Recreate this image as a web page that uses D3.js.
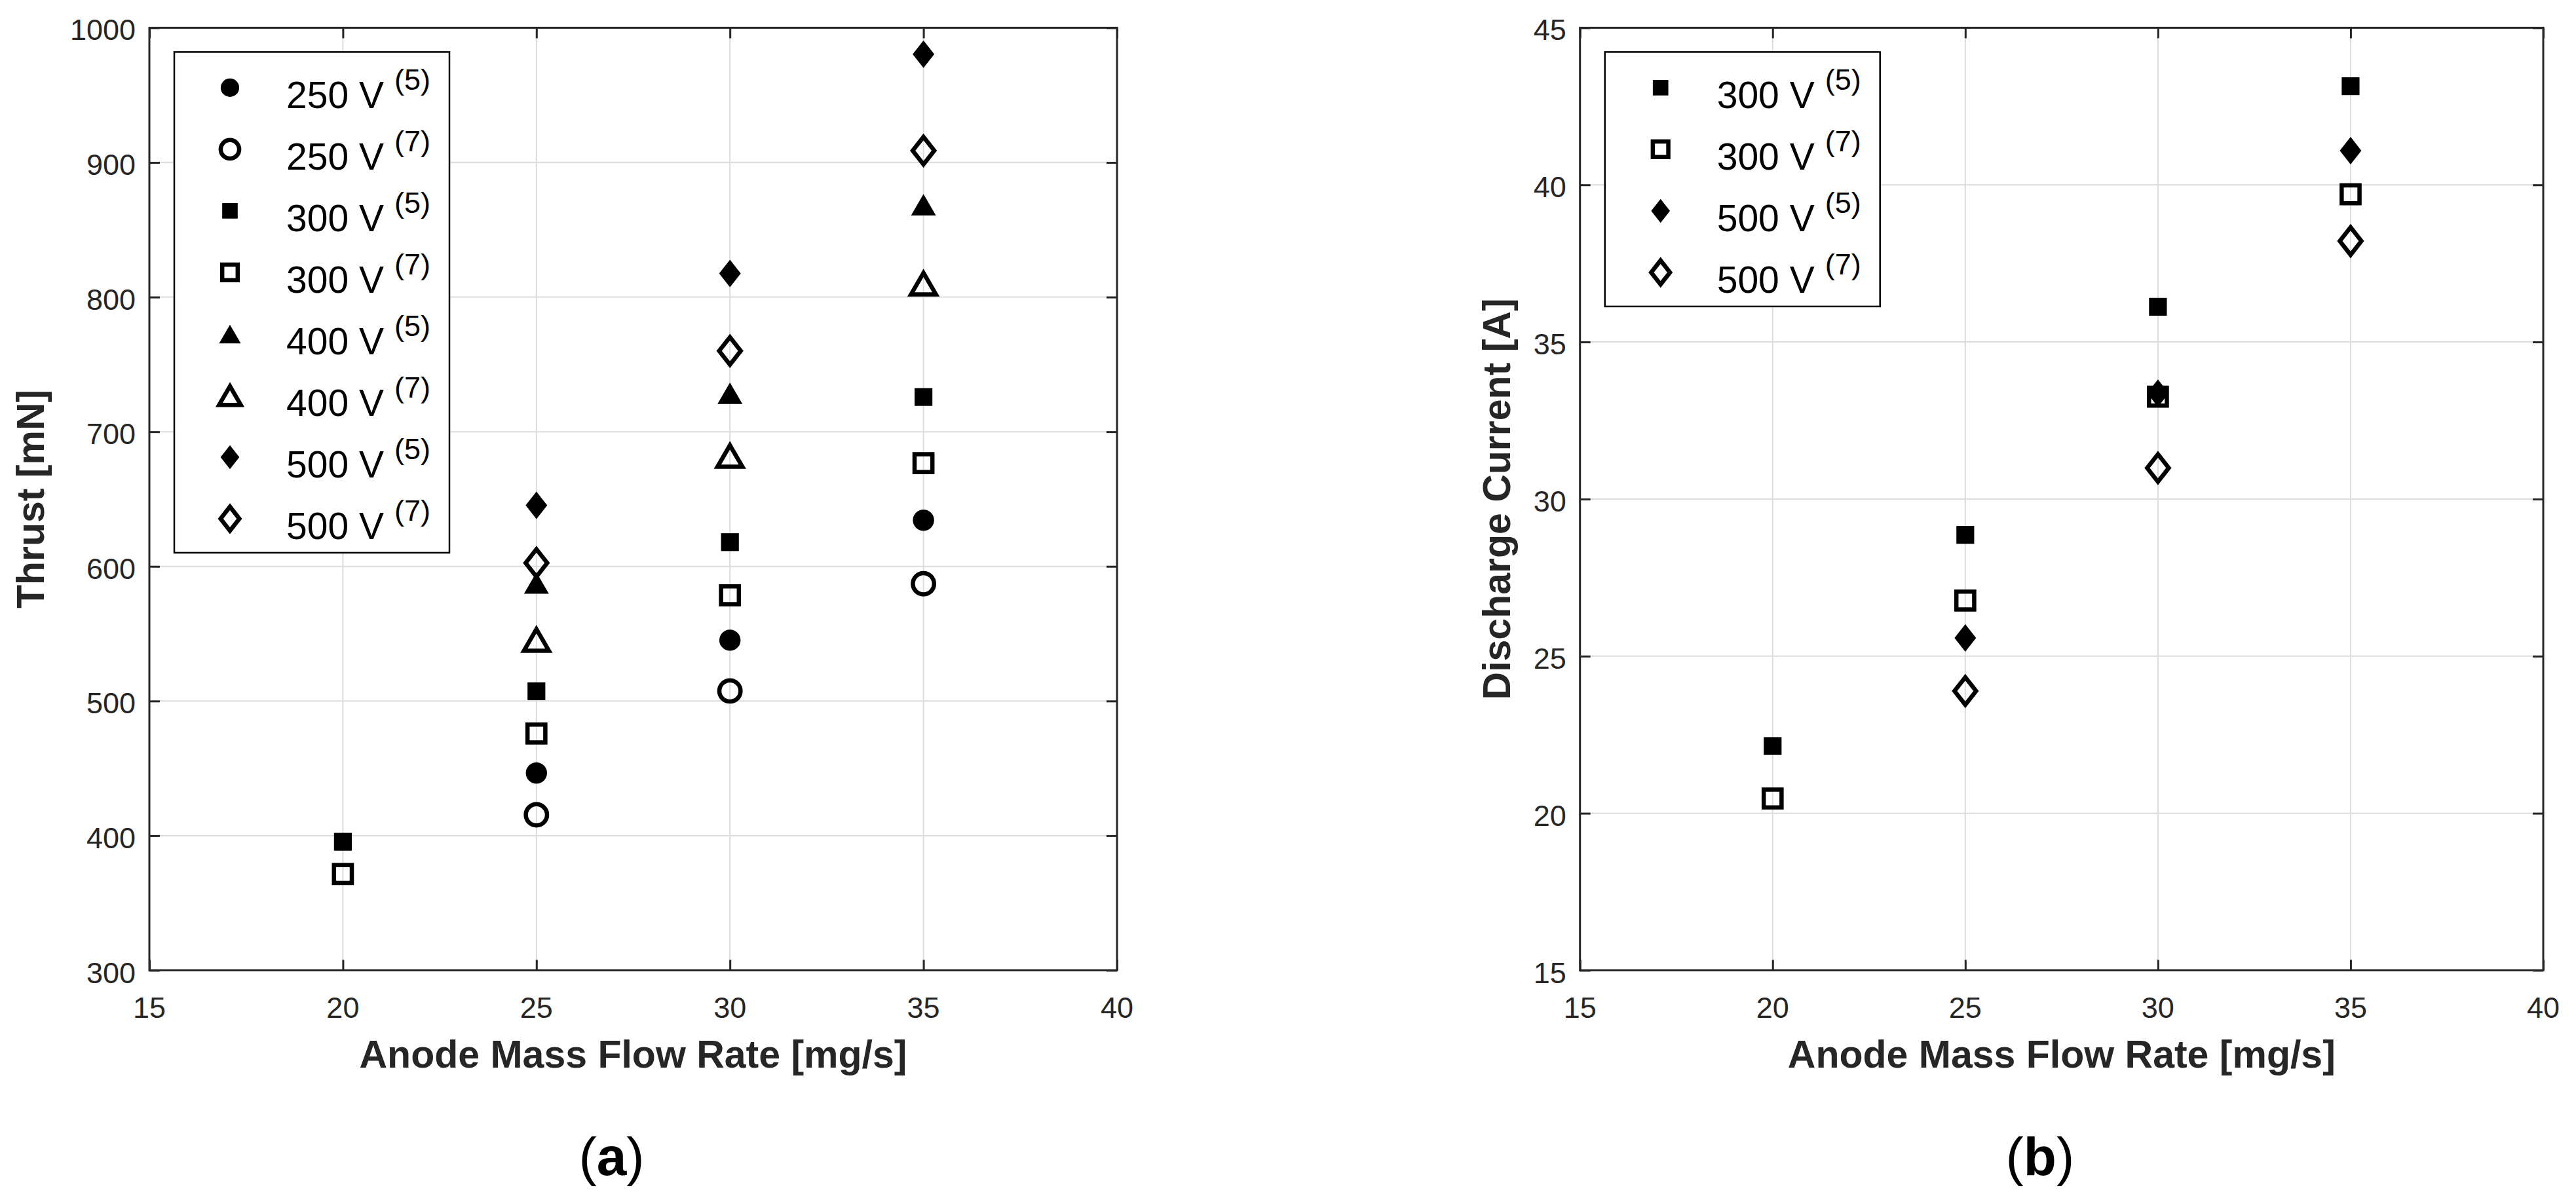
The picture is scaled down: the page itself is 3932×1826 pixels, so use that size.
<!DOCTYPE html>
<html>
<head>
<meta charset="utf-8">
<script src="https://cdnjs.cloudflare.com/ajax/libs/d3/7.8.5/d3.min.js"></script>
<style>
  body { margin: 0; background: #fff; }
  svg { display: block; }
  text { font-family: "Liberation Sans", Arial, Helvetica, sans-serif; }
</style>
</head>
<body>
<div id="chart-area"></div>
<script>
// x values: anode mass flow rate [mg/s]
var flowRates = [20, 25, 30, 35];
var xTicks = [15, 20, 25, 30, 35, 40];

// panel (a) thrust [mN]  (null = not measured)
var thrust250v5 = [null, 446.5, 545.2, 634.3];
var thrust250v7 = [null, 415.5, 507.5, 587.1];
var thrust300v5 = [395.5, 507.3, 618.0, 725.8];
var thrust300v7 = [371.6, 475.9, 578.5, 676.7];
var thrust400v5 = [null, 587.7, 728.6, 868.6];
var thrust400v7 = [null, 545.4, 682.0, 810.0];
var thrust500v5 = [null, 645.3, 817.5, 980.4];
var thrust500v7 = [null, 602.5, 760.0, 908.8];
var thrustTicks = [300, 400, 500, 600, 700, 800, 900, 1000];

// panel (b) discharge current [A]
var current300v5 = [22.14, 28.86, 36.12, 43.14];
var current300v7 = [20.47, 26.77, 33.26, 39.70];
var current500v5 = [null, 25.58, 33.37, 41.09];
var current500v7 = [null, 23.89, 30.99, 38.21];
var currentTicks = [15, 20, 25, 30, 35, 40, 45];

// legend text
var voltageLabels = ["250 V", "250 V", "300 V", "300 V", "400 V", "400 V", "500 V", "500 V"];
var refLabels = ["(5)", "(7)", "(5)", "(7)", "(5)", "(7)", "(5)", "(7)"];

var W = 3932, H = 1826;
var ink = "#262626";

var svg = d3.select("#chart-area").append("svg")
  .attr("width", W)
  .attr("height", H)
  .attr("viewBox", "0 0 " + W + " " + H);

// marker outlines, centred on the data point
function markerPath(shape, k) {
  k = k || 1;
  if (shape == "circle") {
    var r = 16.2 * k;
    return "M" + (-r) + ",0A" + r + "," + r + " 0 1,0 " + r + ",0A" + r + "," + r + " 0 1,0 " + (-r) + ",0Z";
  }
  if (shape == "square") {
    var s = 13.6 * k;
    return "M" + (-s) + "," + (-s) + "H" + s + "V" + s + "H" + (-s) + "Z";
  }
  if (shape == "diamond") {
    var w = 16.5 * k, h = 21 * k;
    return "M0," + (-h) + "L" + w + ",0L0," + h + "L" + (-w) + ",0Z";
  }
  // triangle (up)
  var tw = 19 * k, th = 16.4 * k;
  return "M0," + (-th) + "L" + tw + "," + th + "L" + (-tw) + "," + th + "Z";
}

function styleMarker(sel, filled) {
  sel.attr("fill", filled ? "#000" : "none")
    .attr("stroke", filled ? "none" : "#000")
    .attr("stroke-width", filled ? 0 : 6.5)
    .attr("stroke-linejoin", "miter")
    .attr("stroke-miterlimit", 10);
}

// one MATLAB-like scatter panel
ScatterPanel = function (_opts) {
  this.opts = _opts;
  this.initVis();
};

ScatterPanel.prototype.initVis = function () {
  var vis = this;
  var o = vis.opts;

  vis.g = svg.append("g");

  vis.x = d3.scaleLinear().domain([15, 40]).range([o.left, o.right]);
  vis.y = d3.scaleLinear().domain(o.yDomain).range([o.bottom, o.top]);

  /* grid */
  vis.g.append("g").selectAll("line.vgrid")
    .data(xTicks.slice(1, -1)).enter()
    .append("line")
    .attr("x1", d => vis.x(d)).attr("x2", d => vis.x(d))
    .attr("y1", o.top).attr("y2", o.bottom)
    .attr("stroke", "#dcdcdc").attr("stroke-width", 2);

  vis.g.append("g").selectAll("line.hgrid")
    .data(o.yTicks.slice(1, -1)).enter()
    .append("line")
    .attr("y1", d => vis.y(d)).attr("y2", d => vis.y(d))
    .attr("x1", o.left).attr("x2", o.right)
    .attr("stroke", "#dcdcdc").attr("stroke-width", 2);

  /* axes: inward ticks on all four sides */
  var tl = 16;
  vis.g.append("g")
    .attr("transform", "translate(0," + o.bottom + ")")
    .call(d3.axisBottom(vis.x).tickValues(xTicks).tickSize(-tl).tickFormat(""))
    .call(g => g.select(".domain").remove());
  vis.g.append("g")
    .attr("transform", "translate(0," + o.top + ")")
    .call(d3.axisTop(vis.x).tickValues(xTicks).tickSize(-tl).tickFormat(""))
    .call(g => g.select(".domain").remove());
  vis.g.append("g")
    .attr("transform", "translate(" + o.left + ",0)")
    .call(d3.axisLeft(vis.y).tickValues(o.yTicks).tickSize(-tl).tickFormat(""))
    .call(g => g.select(".domain").remove());
  vis.g.append("g")
    .attr("transform", "translate(" + o.right + ",0)")
    .call(d3.axisRight(vis.y).tickValues(o.yTicks).tickSize(-tl).tickFormat(""))
    .call(g => g.select(".domain").remove());
  vis.g.selectAll(".tick line").attr("stroke", ink).attr("stroke-width", 3);

  // tick labels
  vis.g.append("g").selectAll("text")
    .data(xTicks).enter()
    .append("text")
    .attr("x", d => vis.x(d))
    .attr("y", o.bottom + 72)
    .attr("text-anchor", "middle")
    .attr("font-size", 45)
    .attr("fill", ink)
    .text(d => d);

  vis.g.append("g").selectAll("text")
    .data(o.yTicks).enter()
    .append("text")
    .attr("x", o.left - 21)
    .attr("y", d => vis.y(d) + 19)
    .attr("text-anchor", "end")
    .attr("font-size", 45)
    .attr("fill", ink)
    .text(d => d);

  /* series */
  o.series.forEach(function (s) {
    var pts = flowRates.map((f, i) => ({ x: f, v: s.values[i] })).filter(d => d.v != null);
    vis.g.append("g").selectAll("path")
      .data(pts).enter()
      .append("path")
      .attr("d", markerPath(s.shape))
      .attr("transform", d => "translate(" + vis.x(d.x) + "," + vis.y(d.v) + ")")
      .call(styleMarker, s.filled);
  });

  /* box */
  vis.g.append("rect")
    .attr("x", o.left).attr("y", o.top)
    .attr("width", o.right - o.left).attr("height", o.bottom - o.top)
    .attr("fill", "none").attr("stroke", ink).attr("stroke-width", 3);

  /* legend */
  var lx = o.left + 38, ly = o.top + 37;
  var step = 94;
  var n = o.series.length;
  var legend = vis.g.append("g");
  legend.append("rect")
    .attr("x", lx).attr("y", ly)
    .attr("width", 420).attr("height", 85.5 + (n - 1) * step + 21)
    .attr("fill", "#fff").attr("stroke", "#000").attr("stroke-width", 2.5);

  var items = legend.selectAll("g.item")
    .data(o.series).enter()
    .append("g")
    .attr("class", "item")
    .attr("transform", (d, i) => "translate(" + lx + "," + (ly + 85.5 + i * step) + ")");

  items.append("path")
    .attr("d", d => markerPath(d.shape, 0.87))
    .attr("transform", "translate(85,-31)")
    .each(function (d) { d3.select(this).call(styleMarker, d.filled); });

  var txt = items.append("text")
    .attr("x", 171)
    .attr("y", 0)
    .attr("font-size", 57)
    .attr("fill", "#000")
    .text(d => d.voltage);
  txt.append("tspan")
    .attr("dx", 16)
    .attr("dy", -28)
    .attr("font-size", 45)
    .text(d => d.ref);

  /* axis titles */
  var cx = (o.left + o.right) / 2;
  vis.g.append("text")
    .attr("x", cx)
    .attr("y", 1630)
    .attr("text-anchor", "middle")
    .attr("font-size", 59)
    .attr("font-weight", "bold")
    .attr("fill", ink)
    .text("Anode Mass Flow Rate [mg/s]");

  vis.g.append("text")
    .attr("transform", "translate(" + o.yLabelX + "," + ((o.top + o.bottom) / 2) + ") rotate(-90)")
    .attr("text-anchor", "middle")
    .attr("font-size", 59)
    .attr("font-weight", "bold")
    .attr("fill", ink)
    .text(o.yLabel);

  /* panel letter */
  var lab = vis.g.append("text")
    .attr("x", cx - 33)
    .attr("y", 1794)
    .attr("text-anchor", "middle")
    .attr("font-family", "'Liberation Serif', 'Times New Roman', serif")
    .attr("font-size", 82)
    .attr("fill", "#000");
  lab.append("tspan").text("(");
  lab.append("tspan").attr("font-weight", "bold").text(o.letter);
  lab.append("tspan").text(")");
};

function makeSeries(values, idx, shape, filled) {
  return { values: values, voltage: voltageLabels[idx], ref: refLabels[idx], shape: shape, filled: filled };
}

new ScatterPanel({
  left: 228, right: 1705, top: 42.4, bottom: 1481.5,
  yDomain: [300, 1000], yTicks: thrustTicks,
  yLabel: "Thrust [mN]", yLabelX: 67, letter: "a",
  series: [
    makeSeries(thrust250v5, 0, "circle", true),
    makeSeries(thrust250v7, 1, "circle", false),
    makeSeries(thrust300v5, 2, "square", true),
    makeSeries(thrust300v7, 3, "square", false),
    makeSeries(thrust400v5, 4, "triangle", true),
    makeSeries(thrust400v7, 5, "triangle", false),
    makeSeries(thrust500v5, 6, "diamond", true),
    makeSeries(thrust500v7, 7, "diamond", false)
  ]
});

new ScatterPanel({
  left: 2411.7, right: 3882, top: 42.4, bottom: 1481.5,
  yDomain: [15, 45], yTicks: currentTicks,
  yLabel: "Discharge Current [A]", yLabelX: 2305, letter: "b",
  series: [
    makeSeries(current300v5, 2, "square", true),
    makeSeries(current300v7, 3, "square", false),
    makeSeries(current500v5, 6, "diamond", true),
    makeSeries(current500v7, 7, "diamond", false)
  ]
});
</script>
</body>
</html>
